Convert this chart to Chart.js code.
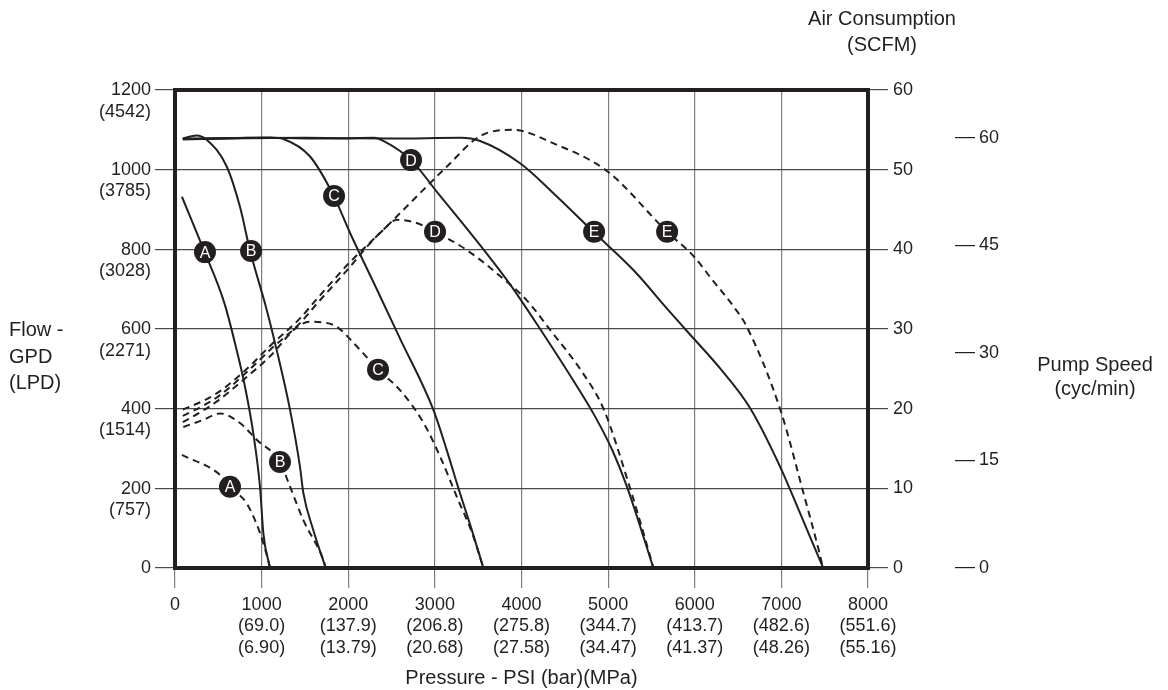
<!DOCTYPE html>
<html><head><meta charset="utf-8">
<script src="https://cdn.jsdelivr.net/npm/chart.js@4.4.0/dist/chart.umd.min.js"></script>
<style>html,body{margin:0;padding:0;background:#fff;}</style>
</head><body>
<canvas id="c" width="1168" height="690"></canvas>
<script>
// ---------- axis ticks / labels ----------
const psiTicks = [0,1000,2000,3000,4000,5000,6000,7000,8000];
const barLabels = ['', '(69.0)', '(137.9)', '(206.8)', '(275.8)', '(344.7)', '(413.7)', '(482.6)', '(551.6)'];
const mpaLabels = ['', '(6.90)', '(13.79)', '(20.68)', '(27.58)', '(34.47)', '(41.37)', '(48.26)', '(55.16)'];
const gpdTicks = [0,200,400,600,800,1000,1200];
const lpdLabels = ['', '(757)', '(1514)', '(2271)', '(3028)', '(3785)', '(4542)'];
const scfmTicks = [0,10,20,30,40,50,60];
const pumpTicks = [0,15,30,45,60];
const pumpMax = 66.67;
const curveNames = ['A','B','C','D','E'];

// ---------- flow curves (GPD vs PSI) ----------
const flowA_psi = [80, 335, 570, 712, 808, 904, 981, 1020, 1097];
const flowA_gpd = [932, 797, 665, 547, 455, 338, 204, 87, 0];
const flowB_psi = [90, 250, 366, 597, 750, 866, 1059, 1174, 1328, 1443, 1482, 1597, 1740];
const flowB_gpd = [1078, 1086, 1075, 1008, 907, 797, 648, 547, 397, 254, 188, 95, 0];
const flowC_psi = [90, 700, 1100, 1251, 1559, 1828, 2021, 2290, 2598, 2983, 3137, 3272, 3420, 3560];
const flowC_gpd = [1076, 1079, 1081, 1077, 1033, 936, 841, 718, 576, 397, 296, 200, 100, 0];
const flowD_psi = [90, 1000, 1800, 2300, 2405, 2725, 3021, 3560, 3868, 4215, 4600, 4850, 5050, 5216, 5523];
const flowD_gpd = [1078, 1080, 1078, 1080, 1072, 1024, 945, 800, 712, 600, 470, 380, 295, 205, 0];
const flowE_psi = [90, 1500, 2500, 3300, 3522, 3984, 4368, 4830, 5292, 5677, 5909, 6293, 6640, 6986, 7217, 7483];
const flowE_gpd = [1077, 1080, 1078, 1080, 1072, 1016, 941, 844, 748, 652, 595, 501, 401, 254, 137, 0];

// ---------- air consumption curves (SCFM vs PSI) ----------
const airA_psi = [80, 520, 635, 828, 981, 1060, 1097];
const airA_scfm = [14.2, 11.7, 10.2, 8.1, 4.4, 1.6, 0];
const airB_psi = [96, 327, 520, 750, 943, 1212, 1328, 1482, 1713, 1740];
const airB_scfm = [17.7, 18.6, 19.4, 18.2, 16.1, 13.3, 10.2, 6.0, 1.0, 0];
const airC_psi = [90, 330, 520, 830, 1100, 1405, 1560, 1830, 2100, 2344, 2600, 2870, 3060, 3270, 3430, 3560];
const airC_scfm = [18.3, 19.8, 21.2, 24.0, 26.6, 30.2, 30.9, 30.5, 27.8, 24.9, 22.3, 18.2, 14.0, 8.5, 4.4, 0];
const airD_psi = [90, 330, 520, 830, 1100, 1440, 1640, 2020, 2214, 2400, 2560, 2790, 3002, 3370, 3714, 4061, 4330, 4700, 4946, 5254, 5408, 5523];
const airD_scfm = [19.1, 20.4, 21.7, 24.6, 27.4, 30.7, 33.2, 37.8, 40.3, 42.4, 43.7, 43.3, 42.2, 39.9, 37.0, 33.6, 29.9, 24.6, 20.0, 10.0, 4.4, 0];
const airE_psi = [90, 330, 520, 830, 1100, 1440, 1640, 2020, 2400, 2750, 3140, 3520, 3900, 4370, 4990, 5680, 5990, 6200, 6450, 6600, 6990, 7255, 7430, 7480];
const airE_scfm = [19.9, 21.0, 22.2, 25.0, 27.9, 31.3, 33.8, 38.4, 42.4, 46.2, 50.4, 54.2, 55.0, 53.3, 49.8, 42.2, 39.1, 36.2, 32.8, 30.3, 19.8, 9.4, 2.3, 0];

// ---------- curve label markers ----------
const flowLabel_psi = [346, 878, 1836, 2725, 4838];
const flowLabel_gpd = [793, 796, 934, 1024, 844];
const airLabel_psi = [635, 1212, 2344, 3002, 5681];
const airLabel_scfm = [10.2, 13.3, 24.9, 42.2, 42.2];

const INK = '#231f20';
const FONT = "'Liberation Sans', Arial, Helvetica, sans-serif";
const pts = (xs, ys) => xs.map((x, i) => ({x: x, y: ys[i]}));

function flowDs(xs, ys) {
  return {data: pts(xs, ys), yAxisID: 'y', borderColor: INK, borderWidth: 2,
    pointRadius: 0, cubicInterpolationMode: 'monotone', fill: false};
}
function airDs(xs, ys) {
  return {data: pts(xs, ys), yAxisID: 'y2', borderColor: INK, borderWidth: 2, borderDash: [7, 5],
    pointRadius: 0, cubicInterpolationMode: 'monotone', fill: false};
}
function labelDs(xs, ys, axis) {
  return {data: pts(xs, ys), yAxisID: axis, showLine: false, order: -1, isLabel: true,
    pointRadius: 11, pointHoverRadius: 11, pointBackgroundColor: INK, pointBorderColor: INK, pointBorderWidth: 0};
}

const letterPlugin = {
  id: 'letters',
  afterDatasetsDraw(chart) {
    const ctx = chart.ctx;
    ctx.save();
    ctx.fillStyle = '#ffffff';
    ctx.font = '16px ' + FONT;
    ctx.textAlign = 'center';
    ctx.textBaseline = 'middle';
    chart.data.datasets.forEach((ds, di) => {
      if (!ds.isLabel) return;
      chart.getDatasetMeta(di).data.forEach((el, i) => {
        ctx.fillText(curveNames[i], el.x, el.y + 1);
      });
    });
    ctx.restore();
  }
};

const framePlugin = {
  id: 'frame',
  afterDatasetsDraw(chart) {
    const a = chart.chartArea, ctx = chart.ctx;
    ctx.save();
    ctx.strokeStyle = INK;
    ctx.lineWidth = 4;
    ctx.strokeRect(a.left, a.top, a.right - a.left, a.bottom - a.top);
    ctx.restore();
  },
  afterDraw(chart) {
    const ctx = chart.ctx, a = chart.chartArea;
    const y2 = chart.scales.y2, yp = chart.scales.yPump;
    ctx.save();
    ctx.fillStyle = INK;
    ctx.font = '20px ' + FONT;
    ctx.textBaseline = 'middle';
    ctx.textAlign = 'center';
    ctx.fillText('Air Consumption', y2.left + 14, 19);
    ctx.fillText('(SCFM)', y2.left + 14, 45);
    ctx.fillText('Pump Speed', yp.left + 140, 365);
    ctx.fillText('(cyc/min)', yp.left + 140, 389);
    ctx.textAlign = 'left';
    const cy = (a.top + a.bottom) / 2;
    ctx.fillText('Flow -', 9, cy + 1);
    ctx.fillText('GPD', 9, cy + 28);
    ctx.fillText('(LPD)', 9, cy + 54);
    ctx.restore();
  }
};

const tickFont = {family: FONT, size: 18, lineHeight: 1.2};

new Chart(document.getElementById('c'), {
  type: 'line',
  data: {
    datasets: [
      labelDs(flowLabel_psi, flowLabel_gpd, 'y'),
      labelDs(airLabel_psi, airLabel_scfm, 'y2'),
      flowDs(flowA_psi, flowA_gpd), flowDs(flowB_psi, flowB_gpd), flowDs(flowC_psi, flowC_gpd),
      flowDs(flowD_psi, flowD_gpd), flowDs(flowE_psi, flowE_gpd),
      airDs(airA_psi, airA_scfm), airDs(airB_psi, airB_scfm), airDs(airC_psi, airC_scfm),
      airDs(airD_psi, airD_scfm), airDs(airE_psi, airE_scfm)
    ]
  },
  options: {
    responsive: false,
    animation: false,
    devicePixelRatio: 1,
    layout: {padding: {top: 90, left: 0, right: 0, bottom: 0}},
    plugins: {legend: {display: false}, tooltip: {enabled: false}, title: {display: false}},
    events: [],
    scales: {
      x: {
        type: 'linear', position: 'bottom', min: 0, max: 8000,
        afterBuildTicks: s => { s.ticks = psiTicks.map(v => ({value: v})); },
        afterFit: s => { s.height = 122; },
        ticks: {
          autoSkip: false, maxRotation: 0, padding: 6, color: INK, font: tickFont,
          callback: (v) => { const i = psiTicks.indexOf(v); return i === 0 ? ['0'] : [String(v), barLabels[i], mpaLabels[i]]; }
        },
        grid: {color: '#7d7d7d', lineWidth: 1.2, tickLength: 20, drawTicks: true},
        border: {display: false},
        title: {display: true, text: 'Pressure - PSI (bar)(MPa)', color: INK,
          font: {family: FONT, size: 20}, padding: {top: 0, bottom: 0}}
      },
      y: {
        type: 'linear', position: 'left', min: 0, max: 1200,
        afterBuildTicks: s => { s.ticks = gpdTicks.map(v => ({value: v})); },
        afterFit: s => { s.width = 175; },
        ticks: {
          autoSkip: false, padding: 4, color: INK, font: tickFont, labelOffset: 11,
          callback: (v) => { const i = gpdTicks.indexOf(v); return [String(v), lpdLabels[i]]; }
        },
        grid: {color: '#4a4a4a', lineWidth: 1.2, tickLength: 20},
        border: {display: false}
      },
      y2: {
        type: 'linear', position: 'right', weight: 1, min: 0, max: 60,
        afterBuildTicks: s => { s.ticks = scfmTicks.map(v => ({value: v})); },
        afterFit: s => { s.width = 87; },
        ticks: {autoSkip: false, padding: 5, color: INK, font: tickFont},
        grid: {drawOnChartArea: false, color: '#4a4a4a', lineWidth: 1.2, tickLength: 20},
        border: {display: false}
      },
      yPump: {
        type: 'linear', position: 'right', weight: 2, min: 0, max: pumpMax,
        afterBuildTicks: s => { s.ticks = pumpTicks.map(v => ({value: v})); },
        afterFit: s => { s.width = 213; },
        ticks: {autoSkip: false, padding: 4, color: INK, font: tickFont},
        grid: {drawOnChartArea: false, color: INK, lineWidth: 1.2, tickLength: 20},
        border: {display: false}
      }
    }
  },
  plugins: [letterPlugin, framePlugin]
});
</script>
</body></html>
